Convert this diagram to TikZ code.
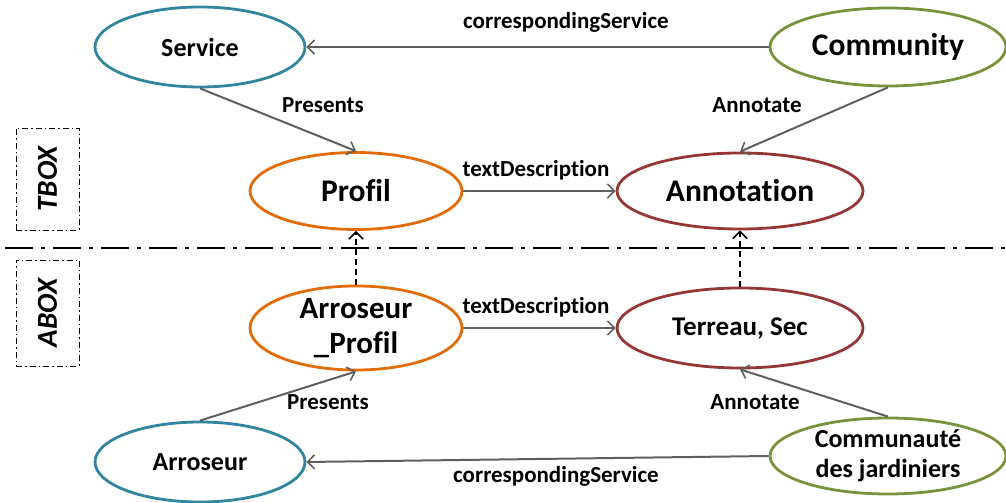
\documentclass[tikz,border=0pt]{standalone}
\usepackage{fontspec}
\setmainfont{Carlito}[Ligatures={NoCommon}]
\usetikzlibrary{arrows.meta,shapes.geometric}
\definecolor{cteal}{HTML}{31859C}
\definecolor{cgreen}{HTML}{77933C}
\definecolor{corange}{HTML}{E36C09}
\definecolor{cred}{HTML}{953735}
\definecolor{cedge}{HTML}{5F5F5F}
\tikzset{
  cls/.style={ellipse, draw, line width=2.8pt, inner sep=0pt, font=\bfseries, align=center},
  rel/.style={draw=cedge, line width=2pt, -{Straight Barb[length=7pt,width=14pt,line width=1.6pt]}},
  inst/.style={draw=black, line width=1.6pt, dash pattern=on 6pt off 4pt, -{Straight Barb[length=7pt,width=14pt,line width=1.6pt]}},
  lbl/.style={font=\bfseries\fontsize{23}{25}\selectfont, inner sep=0pt},
  boxframe/.style={draw, line width=0.9pt, dash pattern=on 6pt off 3pt on 1.5pt off 3pt},
  boxlbl/.style={font=\bfseries\itshape\fontsize{29}{31}\selectfont, rotate=90, inner sep=0pt}
}
\begin{document}
\begin{tikzpicture}[x=1pt,y=1pt]
\useasboundingbox (0,0) rectangle (1006,503);
% nodes
\node[cls, draw=cteal, minimum width=210pt, minimum height=80pt, font=\bfseries\fontsize{26}{28}\selectfont] (service) at (200,456) {Service};
\node[cls, draw=cgreen, minimum width=236pt, minimum height=78pt, font=\bfseries\fontsize{31.5}{33}\selectfont] (community) at (888,456) {Community};
\node[cls, draw=corange, minimum width=212pt, minimum height=77pt, font=\bfseries\fontsize{31.5}{33}\selectfont] (profil) at (356,312) {Profil};
\node[cls, draw=cred, minimum width=246pt, minimum height=76pt, font=\bfseries\fontsize{31.5}{33}\selectfont] (annotation) at (740,312) {Annotation};
\node[cls, draw=corange, minimum width=212pt, minimum height=78pt, font=\bfseries\fontsize{31}{35}\selectfont] (arrprofil) at (356,175) {Arroseur\\\_Profil};
\node[cls, draw=cred, minimum width=246pt, minimum height=80pt, font=\bfseries\fontsize{27}{29}\selectfont] (terreau) at (740,175) {Terreau, Sec};
\node[cls, draw=cteal, minimum width=210pt, minimum height=80pt, font=\bfseries\fontsize{26}{28}\selectfont] (arroseur) at (200,41) {Arroseur};
\node[cls, draw=cgreen, minimum width=236pt, minimum height=76pt, font=\bfseries\fontsize{26}{30}\selectfont] (communaute) at (888,47) {Communauté\\des jardiniers};
% separator
\coordinate (sepL) at (5,255);
\coordinate (sepR) at (1006,255);
\draw[line width=2.4pt, dash pattern=on 28pt off 8pt on 4pt off 8pt] (sepL) -- (sepR);
% TBOX / ABOX
\node[boxframe, minimum width=63pt, minimum height=102pt] (tboxframe) at (47.5,324) {};
\node[boxlbl] (tbox) at (tboxframe.center) {TBOX};
\node[boxframe, minimum width=63pt, minimum height=106pt] (aboxframe) at (47.5,190) {};
\node[boxlbl] (abox) at (aboxframe.center) {ABOX};
% edges
\draw[rel] (community.west) -- (service.east);
\draw[rel] (service.south) -- (profil.north);
\draw[rel] (community.south) -- (annotation.north);
\draw[rel] (profil.east) -- (annotation.west);
\draw[inst] (arrprofil.north) -- (profil.south);
\draw[inst] (terreau.north) -- (annotation.south);
\draw[rel] (arrprofil.east) -- (terreau.west);
\draw[rel] (arroseur.north) -- (arrprofil.south);
\draw[rel] (communaute.north) -- (terreau.south);
\draw[rel] (communaute.west) -- (arroseur.east);
% labels
\node[lbl] (l1) at (566,481) {correspondingService};
\node[lbl] (l2) at (323,398) {Presents};
\node[lbl] (l3) at (757,398) {Annotate};
\node[lbl] (l4) at (536,333) {textDescription};
\node[lbl] (l5) at (536,196) {textDescription};
\node[lbl] (l6) at (328,101) {Presents};
\node[lbl] (l7) at (755,101) {Annotate};
\node[lbl] (l8) at (556,27) {correspondingService};
\end{tikzpicture}
\end{document}
